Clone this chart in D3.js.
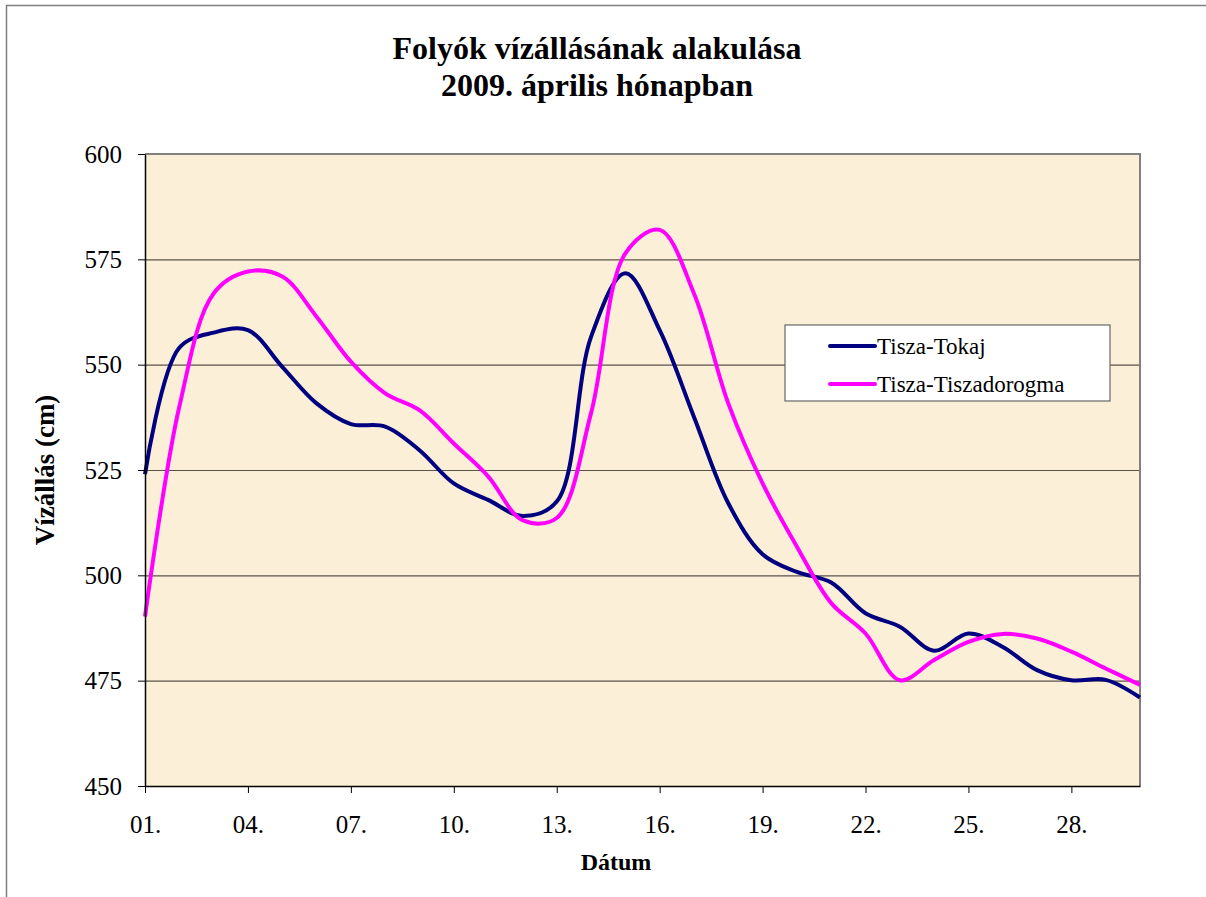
<!DOCTYPE html>
<html>
<head>
<meta charset="utf-8">
<script src="https://cdn.jsdelivr.net/npm/d3@7"></script>
<style>
  body { margin: 0; background: #fff; }
  svg { display: block; font-family: "Liberation Serif", "Times New Roman", serif; }
</style>
</head>
<body>
<svg width="1206" height="897"></svg>
<script>
const days = d3.range(1, 31);
const tickDays = [1, 4, 7, 10, 13, 16, 19, 22, 25, 28];
const yTicks = [450, 475, 500, 525, 550, 575, 600];

const tokaj = [524, 554, 557.6, 558.2, 549.5, 540.8, 535.9, 535.3, 529.7, 521.8,
               517.9, 514.1, 517.5, 556.6, 571.7, 558.2, 537.6, 517.1, 505, 500.8,
               498.3, 491, 487.8, 482.1, 486.2, 483, 477.5, 475.1, 475.2, 471];
const dorogma = [490.2, 540, 566.9, 572.1, 570.9, 561.4, 550.7, 543.2, 539.2, 531.3,
                 523.5, 513.1, 513.6, 538.5, 576.4, 582, 566.9, 540.8, 521.8, 506.8,
                 493.4, 486.2, 475.1, 479.9, 484.2, 486.1, 485, 481.9, 477.9, 474];

const series = [
  { name: "Tisza-Tokaj", values: tokaj, color: "#000080" },
  { name: "Tisza-Tiszadorogma", values: dorogma, color: "#ff00ff" }
];

const svg = d3.select("svg");
const plotL = 145, plotR = 1140, plotT = 154, plotB = 786;

// outer chart border
svg.append("rect")
  .attr("x", 6.5).attr("y", 5.5)
  .attr("width", 1205).attr("height", 900)
  .attr("fill", "#fff")
  .attr("stroke", "#7f7f7f").attr("stroke-width", 1.5);

const x = d3.scalePoint().domain(days).range([plotL, plotR]);
const y = d3.scaleLinear().domain([450, 600]).range([plotB, plotT]);

// plot area
svg.append("rect")
  .attr("x", plotL).attr("y", plotT)
  .attr("width", plotR - plotL).attr("height", plotB - plotT)
  .attr("fill", "#fcefd7");

// gridlines
svg.append("g")
  .selectAll("line")
  .data(yTicks.slice(1, -1))
  .join("line")
  .attr("x1", plotL).attr("x2", plotR)
  .attr("y1", d => y(d) + 0.5).attr("y2", d => y(d) + 0.5)
  .attr("stroke", "#5a5348").attr("stroke-width", 1.2);

// top and right borders
svg.append("path")
  .attr("d", `M${plotL},${plotT}H${plotR}V${plotB}`)
  .attr("fill", "none")
  .attr("stroke", "#808080").attr("stroke-width", 2);

// lines
const line = d3.line()
  .x((d, i) => x(days[i]))
  .y(d => y(d))
  .curve(d3.curveCatmullRom.alpha(0.5));

series.forEach(s => {
  svg.append("path")
    .datum(s.values)
    .attr("fill", "none")
    .attr("stroke", s.color)
    .attr("stroke-width", 4)
    .attr("stroke-linejoin", "round")
    .attr("d", line);
});

// axes
const yAxis = svg.append("g")
  .attr("transform", `translate(${plotL},0)`)
  .call(d3.axisLeft(y).tickValues(yTicks).tickSize(7).tickPadding(16).tickSizeOuter(0));
yAxis.select(".domain").attr("stroke", "#000").attr("stroke-width", 1.5);
yAxis.selectAll(".tick line").attr("stroke", "#000");
yAxis.selectAll("text").attr("font-size", 25).attr("fill", "#000")
  .attr("font-family", "Liberation Serif");

const xAxis = svg.append("g")
  .attr("transform", `translate(0,${plotB})`)
  .call(d3.axisBottom(x).tickValues(tickDays).tickSize(7).tickPadding(22).tickSizeOuter(0)
    .tickFormat(d => String(d).padStart(2, "0") + "."));
xAxis.select(".domain").attr("stroke", "#000").attr("stroke-width", 1.5);
xAxis.selectAll(".tick line").attr("stroke", "#000");
xAxis.selectAll("text").attr("font-size", 25).attr("fill", "#000")
  .attr("font-family", "Liberation Serif");

// titles
svg.append("text")
  .attr("x", 597).attr("y", 59)
  .attr("text-anchor", "middle")
  .attr("font-size", 32).attr("font-weight", "bold")
  .text("Folyók vízállásának alakulása");
svg.append("text")
  .attr("x", 597).attr("y", 96)
  .attr("text-anchor", "middle")
  .attr("font-size", 32).attr("font-weight", "bold")
  .text("2009. április hónapban");

svg.append("text")
  .attr("x", 616).attr("y", 870)
  .attr("text-anchor", "middle")
  .attr("font-size", 24).attr("font-weight", "bold")
  .text("Dátum");

svg.append("text")
  .attr("transform", `translate(54,${(plotT + plotB) / 2}) rotate(-90)`)
  .attr("text-anchor", "middle")
  .attr("font-size", 27).attr("font-weight", "bold")
  .text("Vízállás (cm)");

// legend
const legend = svg.append("g").attr("transform", "translate(785,325)");
legend.append("rect")
  .attr("width", 325).attr("height", 76)
  .attr("fill", "#fff")
  .attr("stroke", "#666").attr("stroke-width", 1.2);
series.forEach((s, i) => {
  const ly = 21 + i * 38;
  legend.append("line")
    .attr("x1", 45).attr("x2", 90)
    .attr("y1", ly).attr("y2", ly)
    .attr("stroke", s.color).attr("stroke-width", 4)
    .attr("stroke-linecap", "round");
  legend.append("text")
    .attr("x", 92).attr("y", ly + 8)
    .attr("font-size", 23)
    .text(s.name);
});
</script>
</body>
</html>
